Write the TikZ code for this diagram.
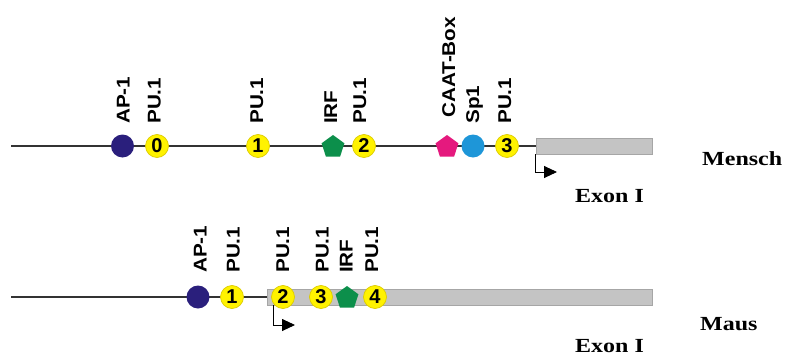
\documentclass[tikz,border=0pt]{standalone}
\usepackage{fontspec}
\setmainfont{Liberation Sans}
\newfontfamily\serifbf{Liberation Serif}
\usetikzlibrary{shapes.geometric,arrows.meta}
\definecolor{puyellow}{HTML}{FFF200}
\definecolor{puedge}{HTML}{DCCB00}
\definecolor{apblue}{HTML}{2A1F7C}
\definecolor{irfgreen}{HTML}{0C8F4B}
\definecolor{caatmag}{HTML}{E5197E}
\definecolor{spblue}{HTML}{1E96D8}
\definecolor{exfill}{HTML}{C4C4C4}
\definecolor{exedge}{HTML}{A6A6A6}
\definecolor{dnaline}{HTML}{333333}
\tikzset{
  tf/.style={circle, minimum size=23pt, inner sep=0pt},
  pu/.style={tf, fill=puyellow, draw=puedge, line width=0.7pt,
    font=\bfseries\fontsize{20}{20}\selectfont},
  ap/.style={tf, fill=apblue},
  spc/.style={tf, fill=spblue},
  pent/.style={regular polygon, regular polygon sides=5, minimum size=24pt, inner sep=0pt},
  irf/.style={pent, fill=irfgreen},
  caat/.style={pent, fill=caatmag},
  lab/.style={rotate=90, anchor=base west, inner sep=0pt,
    font=\bfseries\fontsize{18.5}{18.5}\selectfont},
  exonbox/.style={draw=exedge, fill=exfill, line width=0.8pt, inner sep=0pt},
  serlab/.style={anchor=base west, inner sep=0pt,
    font=\serifbf\bfseries\fontsize{20}{20}\selectfont},
  dna/.style={draw=dnaline, line width=1.3pt},
  tss/.style={draw=black, line width=0.9pt, -{Triangle[length=13pt,width=12pt]}},
}
\newcommand{\stx}[1]{\scalebox{1.2}[1]{#1}}
\newcommand{\slx}[1]{\scalebox{1.12}[1]{#1}}
\begin{document}
\begin{tikzpicture}[x=1pt,y=-1pt]
\useasboundingbox (0,0) rectangle (785,356);
% ---------- Mensch ----------
\node[exonbox, minimum width=116pt, minimum height=16pt] (hbox) at (594,146) {};
\coordinate (hstart) at (11,146);
\draw[dna] (hstart) -- (hbox.west);
\coordinate (harrow) at (557,172);
\draw[tss] (hbox.south west) |- (harrow);
\node[ap] (hap) at (122.5,146) {};
\node[pu] (hp0) at (157,146) {0};
\node[pu] (hp1) at (258,146) {1};
\node[irf] (hirf) at (333,147) {};
\node[pu] (hp2) at (364,146) {2};
\node[caat] (hcaat) at (447,147) {};
\node[spc] (hsp) at (473,146) {};
\node[pu] (hp3) at (507,146) {3};
\node[lab] (lhap) at (129.5,124) {\slx{AP-1}};
\node[lab] (lhp0) at (160.5,124) {\slx{PU.1}};
\node[lab] (lhp1) at (263,124) {\slx{PU.1}};
\node[lab] (lhirf) at (337,124) {\slx{IRF}};
\node[lab] (lhp2) at (366,124) {\slx{PU.1}};
\node[lab] (lhcaat) at (455,118) {\slx{CAAT-Box}};
\node[lab] (lhsp) at (479,124) {\slx{Sp1}};
\node[lab] (lhp3) at (511,124) {\slx{PU.1}};
\node[serlab] (mensch) at (702,165) {\stx{Mensch}};
\node[serlab] (hexon) at (575,202) {\stx{Exon I}};
% ---------- Maus ----------
\node[exonbox, minimum width=385pt, minimum height=16pt] (mbox) at (459.5,297) {};
\coordinate (mstart) at (11,297);
\draw[dna] (mstart) -- (mbox.west);
\coordinate (mroot) at (273,305);
\coordinate (marrow) at (295,325);
\draw[tss] (mroot) |- (marrow);
\node[ap] (map) at (198,297) {};
\node[pu] (mp1) at (232,297) {1};
\node[pu] (mp2) at (283,297) {2};
\node[pu] (mp3) at (321,297) {3};
\node[irf] (mirf) at (347,298) {};
\node[pu] (mp4) at (375,297) {4};
\node[lab] (lmap) at (206.5,273) {\slx{AP-1}};
\node[lab] (lmp1) at (239.5,273) {\slx{PU.1}};
\node[lab] (lmp2) at (289,273) {\slx{PU.1}};
\node[lab] (lmp3) at (328.5,273) {\slx{PU.1}};
\node[lab] (lmirf) at (352.5,273) {\slx{IRF}};
\node[lab] (lmp4) at (378,273) {\slx{PU.1}};
\node[serlab] (maus) at (700,330) {\stx{Maus}};
\node[serlab] (mexon) at (575,352) {\stx{Exon I}};
\end{tikzpicture}
\end{document}
